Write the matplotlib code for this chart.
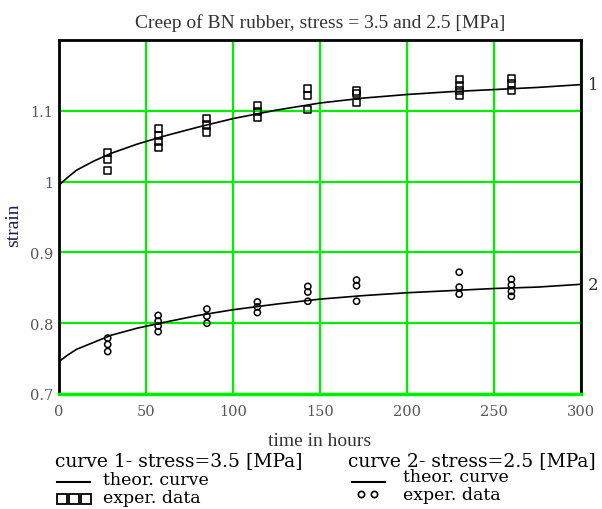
import matplotlib
matplotlib.use("Agg")
import matplotlib.pyplot as plt
from matplotlib.lines import Line2D
from matplotlib.transforms import blended_transform_factory

# measured creep data, curve 1 (stress 3.5 MPa) - squares
t1 = [28, 28, 28,
      57, 57, 57, 57,
      85, 85, 85,
      114, 114, 114,
      143, 143, 143,
      171, 171, 171,
      230, 230, 230, 230,
      260, 260, 260]
e1 = [1.041, 1.031, 1.016,
      1.075, 1.065, 1.056, 1.048,
      1.089, 1.080, 1.070,
      1.108, 1.099, 1.090,
      1.131, 1.122, 1.102,
      1.128, 1.124, 1.112,
      1.144, 1.136, 1.129, 1.122,
      1.146, 1.138, 1.129]

# measured creep data, curve 2 (stress 2.5 MPa) - circles
t2 = [28, 28, 28,
      57, 57, 57, 57,
      85, 85, 85,
      114, 114, 114,
      143, 143, 143,
      171, 171, 171,
      230, 230, 230,
      260, 260, 260, 260]
e2 = [0.779, 0.770, 0.760,
      0.811, 0.803, 0.796, 0.788,
      0.820, 0.810, 0.800,
      0.830, 0.823, 0.815,
      0.852, 0.844, 0.831,
      0.861, 0.853, 0.831,
      0.872, 0.851, 0.841,
      0.862, 0.854, 0.845, 0.838]

# theoretical curves
tc = [0, 5, 10, 20, 30, 45, 60, 80, 100, 125, 150, 175, 200, 225, 250, 275, 300]
ec1 = [0.995, 1.006, 1.016, 1.029, 1.040, 1.053, 1.064, 1.077, 1.089, 1.101,
       1.111, 1.118, 1.123, 1.127, 1.130, 1.133, 1.137]
ec2 = [0.746, 0.755, 0.763, 0.773, 0.783, 0.793, 0.801, 0.811, 0.819, 0.827,
       0.834, 0.839, 0.843, 0.846, 0.849, 0.851, 0.855]

xticks = [0, 50, 100, 150, 200, 250, 300]
yticks = [0.7, 0.8, 0.9, 1.0, 1.1]
ytick_labels = ["0.7", "0.8", "0.9", "1", "1.1"]

serif = ["DejaVu Serif"]
times = ["Liberation Serif"]
green = "#00ee00"

fig = plt.figure(figsize=(6.02, 5.10), dpi=100)
ax = fig.add_axes([59/602, 1 - 395/510, 522/602, 354/510])

ax.plot(tc, ec1, color="black", lw=1.2, zorder=3)
ax.plot(tc, ec2, color="black", lw=1.2, zorder=3)
ax.scatter(t1, e1, marker="s", s=26, facecolors="none", edgecolors="black", linewidths=1.1, zorder=4)
ax.scatter(t2, e2, marker="o", s=20, facecolors="none", edgecolors="black", linewidths=1.1, zorder=4)

ax.set_xlim(0, 300)
ax.set_ylim(0.7, 1.2)
ax.set_xticks(xticks)
ax.set_yticks(yticks)
ax.set_yticklabels(ytick_labels)
ax.grid(True, color=green, lw=1.6)
ax.tick_params(length=0, labelsize=10.5, labelcolor="#555555")
ax.tick_params(axis="x", pad=7)
ax.tick_params(axis="y", pad=4)
for lbl in ax.get_xticklabels() + ax.get_yticklabels():
    lbl.set_family(serif)

for side in ["left", "top", "right"]:
    ax.spines[side].set_linewidth(2)
    ax.spines[side].set_color("black")
ax.spines["bottom"].set_linewidth(2.5)
ax.spines["bottom"].set_color(green)

ax.set_title("Creep of BN rubber, stress = 3.5 and 2.5 [MPa]", fontsize=14,
             family=times, color="#333333", pad=9)
ax.set_xlabel("time in hours", fontsize=14, family=times, color="#333333")
ax.xaxis.set_label_coords(0.5, -(433 - 395) / 354)
ax.set_ylabel("strain", fontsize=14, family=times, color="#1a1a5a")
ax.yaxis.set_label_coords(-(59 - 22) / 522, (395 - 225) / 354)

# curve numbers at the right edge
side_tr = blended_transform_factory(fig.transFigure, ax.transData)
ax.text(588/602, ec1[-1], "1", transform=side_tr, fontsize=12, family=serif,
        color="#333333", va="center")
ax.text(588/602, ec2[-1], "2", transform=side_tr, fontsize=12, family=serif,
        color="#333333", va="center")

# legend block below the chart
fig.text(55/602, 1 - 461/510, "curve 1- stress=3.5 [MPa]", fontsize=13.5, family=serif, va="center")
fig.text(348/602, 1 - 461/510, "curve 2- stress=2.5 [MPa]", fontsize=13.5, family=serif, va="center")
fig.text(103/602, 1 - 481/510, "theor. curve", fontsize=12.5, family=serif, va="center")
fig.text(403/602, 1 - 478/510, "theor. curve", fontsize=12.5, family=serif, va="center")
fig.text(103/602, 1 - 499/510, "exper. data", fontsize=12.5, family=serif, va="center")
fig.text(403/602, 1 - 496/510, "exper. data", fontsize=12.5, family=serif, va="center")

fig.add_artist(Line2D([57/602, 90/602], [1 - 483/510] * 2, color="black", lw=1.5))
fig.add_artist(Line2D([352/602, 385/602], [1 - 483/510] * 2, color="black", lw=1.5))
fig.add_artist(Line2D([62/602, 74/602, 86/602], [1 - 500/510] * 3, ls="none", marker="s",
                      ms=7.5, mfc="none", mec="black", mew=1.3))
fig.add_artist(Line2D([361/602, 374/602], [1 - 495/510] * 2, ls="none", marker="o",
                      ms=4.5, mfc="none", mec="black", mew=1.2))

fig.savefig("out.png", dpi=100)
